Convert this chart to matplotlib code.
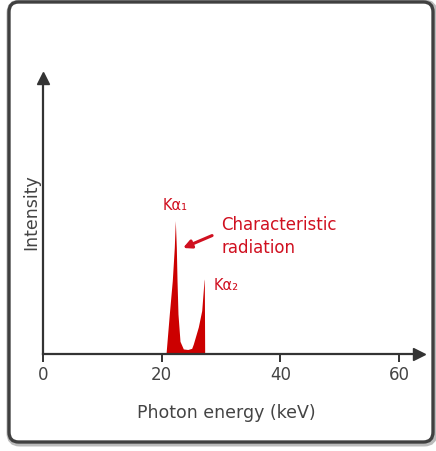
import matplotlib.pyplot as plt
from matplotlib.patches import FancyBboxPatch

# spectrum outline (keV, relative intensity)
energy = [20.73, 21.29, 21.79, 22.13, 22.30, 22.47, 22.59, 22.75, 23.09, 23.65,
          24.4, 25.06, 25.33, 26.18, 26.75, 27.14, 27.19, 27.25]
intensity = [0.0, 0.142, 0.260, 0.378, 0.473, 0.378, 0.260, 0.142, 0.045, 0.018,
             0.016, 0.02, 0.035, 0.096, 0.154, 0.260, 0.266, 0.0]

xticks = [0, 20, 40, 60]
xticklabels = ['0', '20', '40', '60']

red = '#cc0000'
txt_red = '#d01020'
dark = '#333333'
gray = '#444444'

W, H = 436, 452
fig = plt.figure(figsize=(W / 100, H / 100), dpi=100)
fig.patch.set_facecolor('white')

# rounded frame with a soft shadow, kept behind the axes
shadow = FancyBboxPatch((10 / W, 8 / H), 424 / W, 440 / H,
                        boxstyle='round,pad=0,rounding_size=0.022',
                        transform=fig.transFigure, facecolor='none',
                        edgecolor='#bbbbbb', lw=5, zorder=-3)
frame = FancyBboxPatch((9 / W, 9 / H), 424 / W, 440 / H,
                       boxstyle='round,pad=0,rounding_size=0.022',
                       transform=fig.transFigure, facecolor='white',
                       edgecolor='#404040', lw=2.4, zorder=-2)
fig.patches.extend([shadow, frame])

px = 5.933  # pixels per keV
xmax = 63.4
ax_h = 276
ax = fig.add_axes([43 / W, (H - 355) / H, xmax * px / W, ax_h / H])
ax.set_facecolor('none')
ax.set_xlim(0, xmax)
ax.set_ylim(0, ax_h / 282)

ax.fill_between(energy, intensity, color=red, lw=0)

for s in ['top', 'right']:
    ax.spines[s].set_visible(False)
for s in ['left', 'bottom']:
    ax.spines[s].set_color(dark)
    ax.spines[s].set_linewidth(1.6)

ax.plot(1, 0, '>', color=dark, ms=8, transform=ax.transAxes, clip_on=False)
ax.plot(0, 1, '^', color=dark, ms=8, transform=ax.transAxes, clip_on=False)

ax.set_xticks(xticks)
ax.set_xticklabels(xticklabels)
ax.set_yticks([])
ax.tick_params(axis='x', direction='out', length=6, width=1.4, color=dark,
               labelcolor=gray, labelsize=12, pad=2)

ax.set_xlabel('Photon energy (keV)', color=gray, fontsize=12.5, va='top')
ax.xaxis.set_label_coords(0.488, -0.179)
ax.set_ylabel('Intensity', color=gray, fontsize=12.5)
ax.yaxis.set_label_coords(-0.006, 0.518)

ax.text(20.2, 0.514, 'Kα₁', color=txt_red, fontsize=10.5, ha='left', va='baseline')
ax.text(28.7, 0.23, 'Kα₂', color=txt_red, fontsize=10.5, ha='left', va='baseline')
ax.text(30.1, 0.443, 'Characteristic', color=txt_red, fontsize=12, ha='left', va='baseline')
ax.text(30.1, 0.362, 'radiation', color=txt_red, fontsize=12, ha='left', va='baseline')
ax.annotate('', xy=(23.6, 0.376), xytext=(28.5, 0.42),
            arrowprops=dict(arrowstyle='-|>', color=txt_red, lw=2.2,
                            mutation_scale=12, shrinkA=0, shrinkB=0))

fig.savefig('out.png', dpi=100)
